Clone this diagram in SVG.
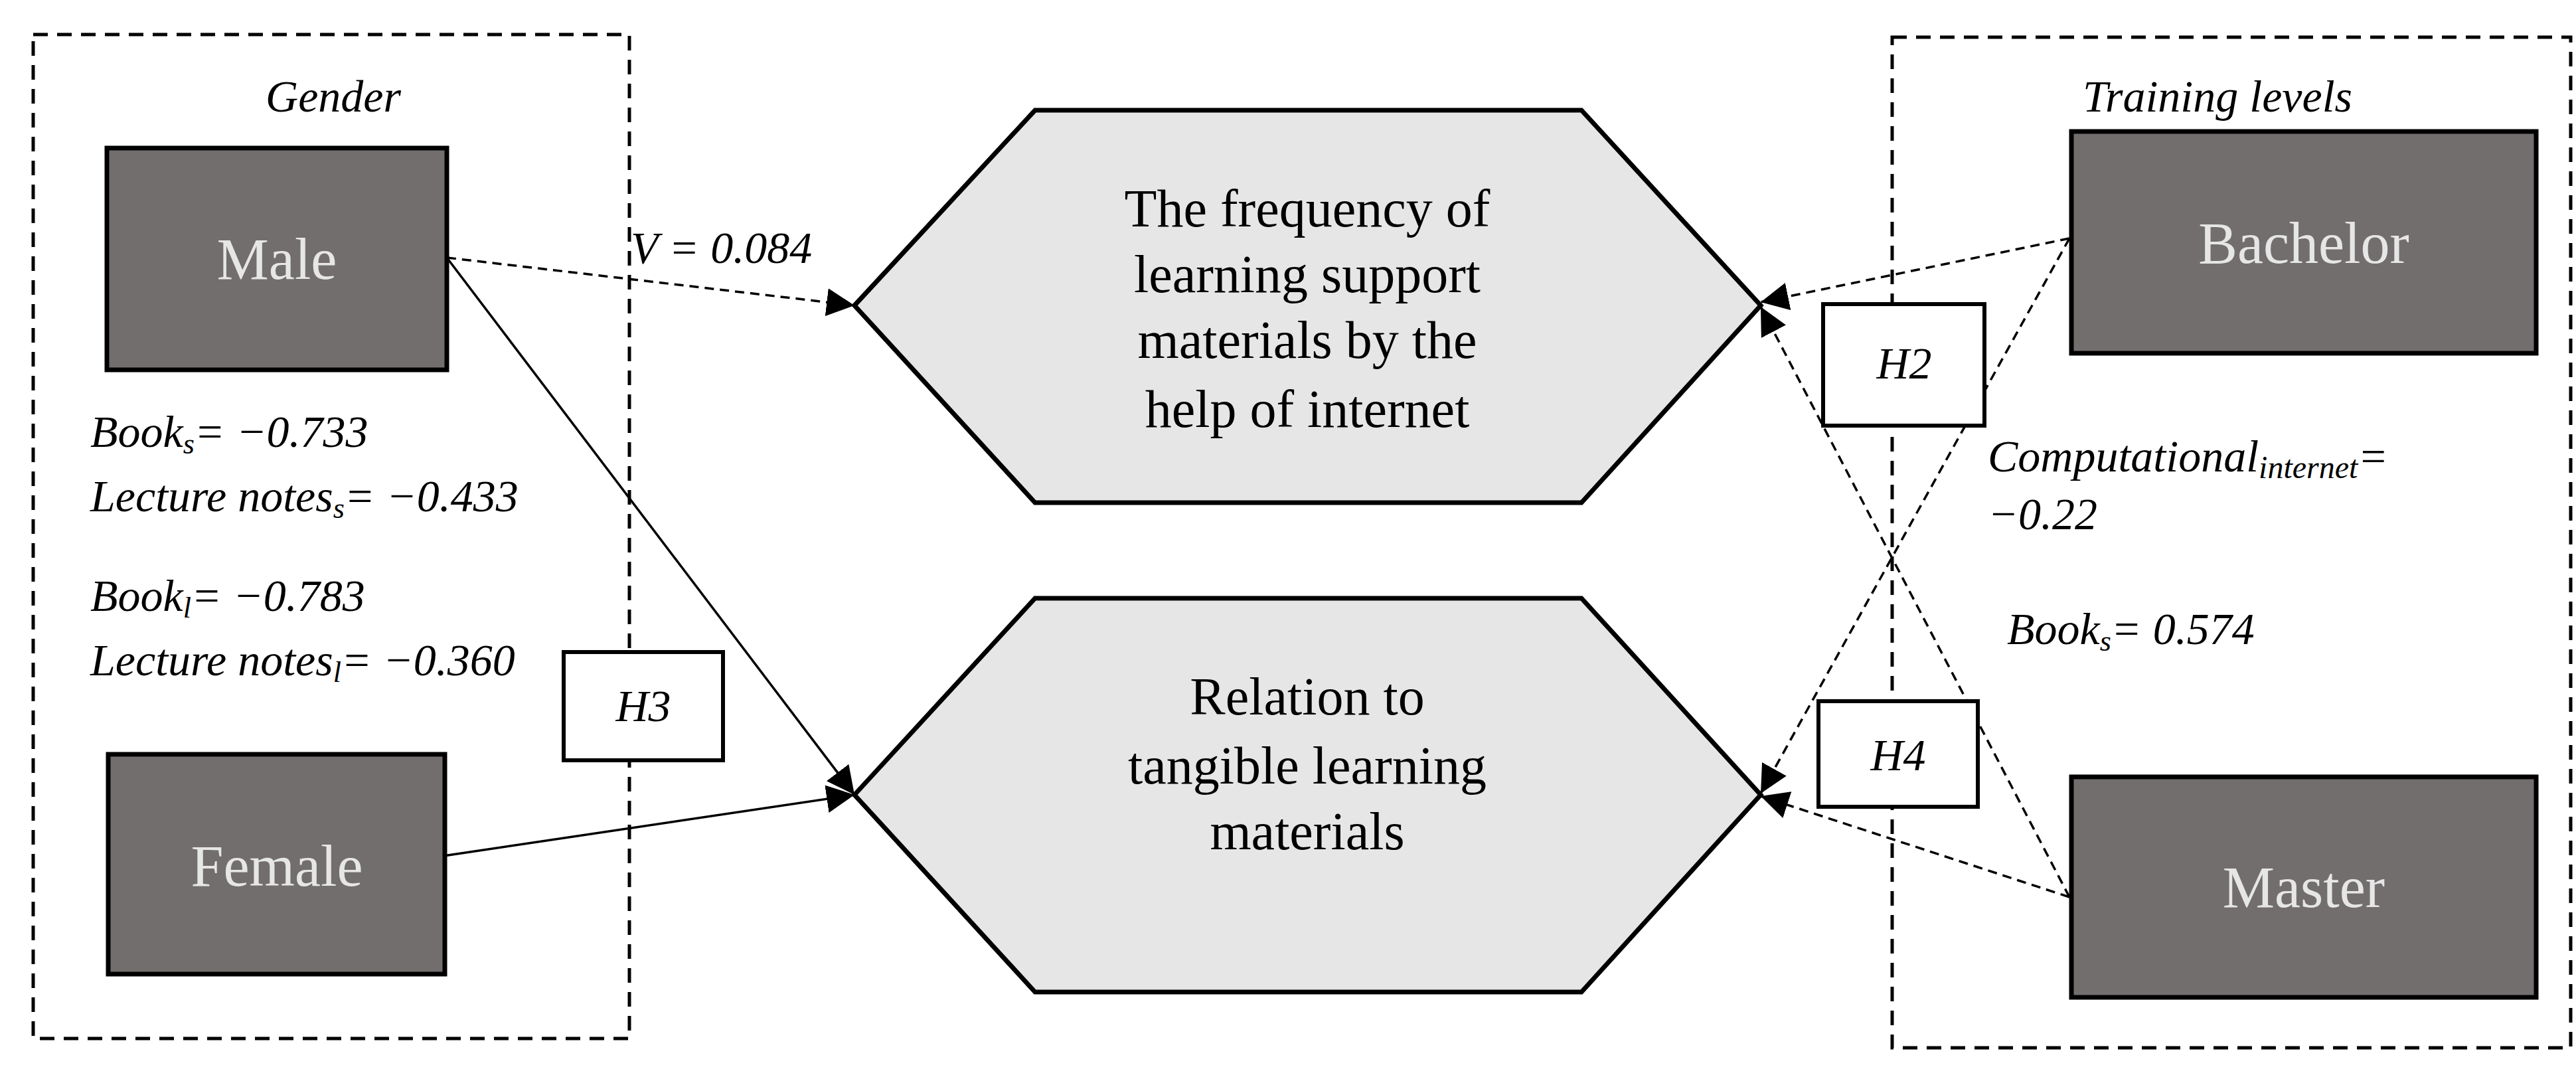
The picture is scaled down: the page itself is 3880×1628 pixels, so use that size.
<svg xmlns="http://www.w3.org/2000/svg" width="3880" height="1628" viewBox="0 0 3880 1628">
<style>
text{font-family:"Liberation Serif","DejaVu Serif",serif;}
.grp{fill:none;stroke:#000;stroke-width:5;stroke-dasharray:22 14;}
.box{fill:#726e6d;stroke:#000;stroke-width:7;}
.bt{fill:#e6e6e6;font-size:88px;text-anchor:middle;}
.hex{fill:#e6e6e6;stroke:#000;stroke-width:7;}
.ht{fill:#000;font-size:80px;text-anchor:middle;}
.lbl{font-size:68px;font-style:italic;fill:#000;}
.hb{fill:#fff;stroke:#000;stroke-width:6;}
.dash{stroke:#000;stroke-width:3.5;stroke-dasharray:14 9;fill:none;}
.solid{stroke:#000;stroke-width:3.5;fill:none;}
</style>
<defs>
<marker id="ah" viewBox="0 0 10 10" refX="10" refY="5" markerWidth="14" markerHeight="14" markerUnits="userSpaceOnUse" orient="auto"><path d="M0,0 L10,5 L0,10 z" fill="#000"/></marker>
<marker id="a" viewBox="0 0 10 10" refX="10" refY="5" markerWidth="12" markerHeight="12" orient="auto"><path d="M0,0 L10,5 L0,10 z" fill="#000"/></marker>
</defs>
<g id="gender-group">
<rect class="grp" x="50" y="52" width="898" height="1512"/>
<text class="lbl" x="502" y="168" text-anchor="middle" font-size="80">Gender</text>
</g>
<g id="training-group">
<rect class="grp" x="2850" y="56" width="1022" height="1522"/>
<text class="lbl" x="3340" y="168" text-anchor="middle" font-size="80">Training levels</text>
</g>
<g id="connectors">
<line class="dash" x1="673" y1="388" x2="1287" y2="460" marker-end="url(#a)"/>
<line class="solid" x1="673" y1="388" x2="1287" y2="1197" marker-end="url(#a)"/>
<line class="solid" x1="668" y1="1289" x2="1287" y2="1197" marker-end="url(#a)"/>
<line class="dash" x1="3117" y1="359" x2="2652" y2="455" marker-end="url(#a)"/>
<line class="dash" x1="3117" y1="359" x2="2652" y2="1195" marker-end="url(#a)"/>
<line class="dash" x1="3117" y1="1351" x2="2652" y2="1199" marker-end="url(#a)"/>
<line class="dash" x1="3117" y1="1351" x2="2652" y2="462" marker-end="url(#a)"/>
</g>
<g id="male"><rect class="box" x="161" y="223" width="512" height="334"/><text class="bt" x="417" y="420">Male</text></g>
<g id="female"><rect class="box" x="163" y="1136" width="507" height="331"/><text class="bt" x="417" y="1334">Female</text></g>
<g id="bachelor"><rect class="box" x="3120" y="198" width="700" height="334"/><text class="bt" x="3470" y="396">Bachelor</text></g>
<g id="master"><rect class="box" x="3120" y="1170" width="700" height="332"/><text class="bt" x="3470" y="1366">Master</text></g>
<g id="frequency">
<polygon class="hex" points="1287,460 1559,166 2382,166 2652,460 2382,757 1559,757"/>
<text class="ht" x="1969" y="341">The frequency of</text>
<text class="ht" x="1969" y="440">learning support</text>
<text class="ht" x="1969" y="539">materials by the</text>
<text class="ht" x="1969" y="643">help of internet</text>
</g>
<g id="tangible">
<polygon class="hex" points="1287,1197 1559,901 2382,901 2652,1197 2382,1494 1559,1494"/>
<text class="ht" x="1969" y="1076">Relation to</text>
<text class="ht" x="1969" y="1180">tangible learning</text>
<text class="ht" x="1969" y="1279">materials</text>
</g>
<g id="h3"><rect class="hb" x="849" y="982" width="240" height="163"/><text class="lbl" x="969" y="1086" text-anchor="middle">H3</text></g>
<g id="h2"><rect class="hb" x="2746" y="458" width="243" height="183"/><text class="lbl" x="2868" y="570" text-anchor="middle">H2</text></g>
<g id="h4"><rect class="hb" x="2739" y="1056" width="240" height="159"/><text class="lbl" x="2859" y="1160" text-anchor="middle">H4</text></g>
<g id="labels">
<text class="lbl" x="950" y="396">V = 0.084</text>
<text class="lbl" x="136" y="673">Book<tspan font-size="44" dy="10">s</tspan><tspan dy="-10">= −0.733</tspan></text>
<text class="lbl" x="136" y="770">Lecture notes<tspan font-size="44" dy="10">s</tspan><tspan dy="-10">= −0.433</tspan></text>
<text class="lbl" x="136" y="920">Book<tspan font-size="44" dy="10">l</tspan><tspan dy="-10">= −0.783</tspan></text>
<text class="lbl" x="136" y="1017">Lecture notes<tspan font-size="44" dy="10">l</tspan><tspan dy="-10">= −0.360</tspan></text>
<text class="lbl" x="2994" y="710">Computational<tspan font-size="48" dy="10">internet</tspan><tspan dy="-10">=</tspan></text>
<text class="lbl" x="2994" y="797">−0.22</text>
<text class="lbl" x="3023" y="970">Book<tspan font-size="44" dy="10">s</tspan><tspan dy="-10">= 0.574</tspan></text>
</g>
</svg>
